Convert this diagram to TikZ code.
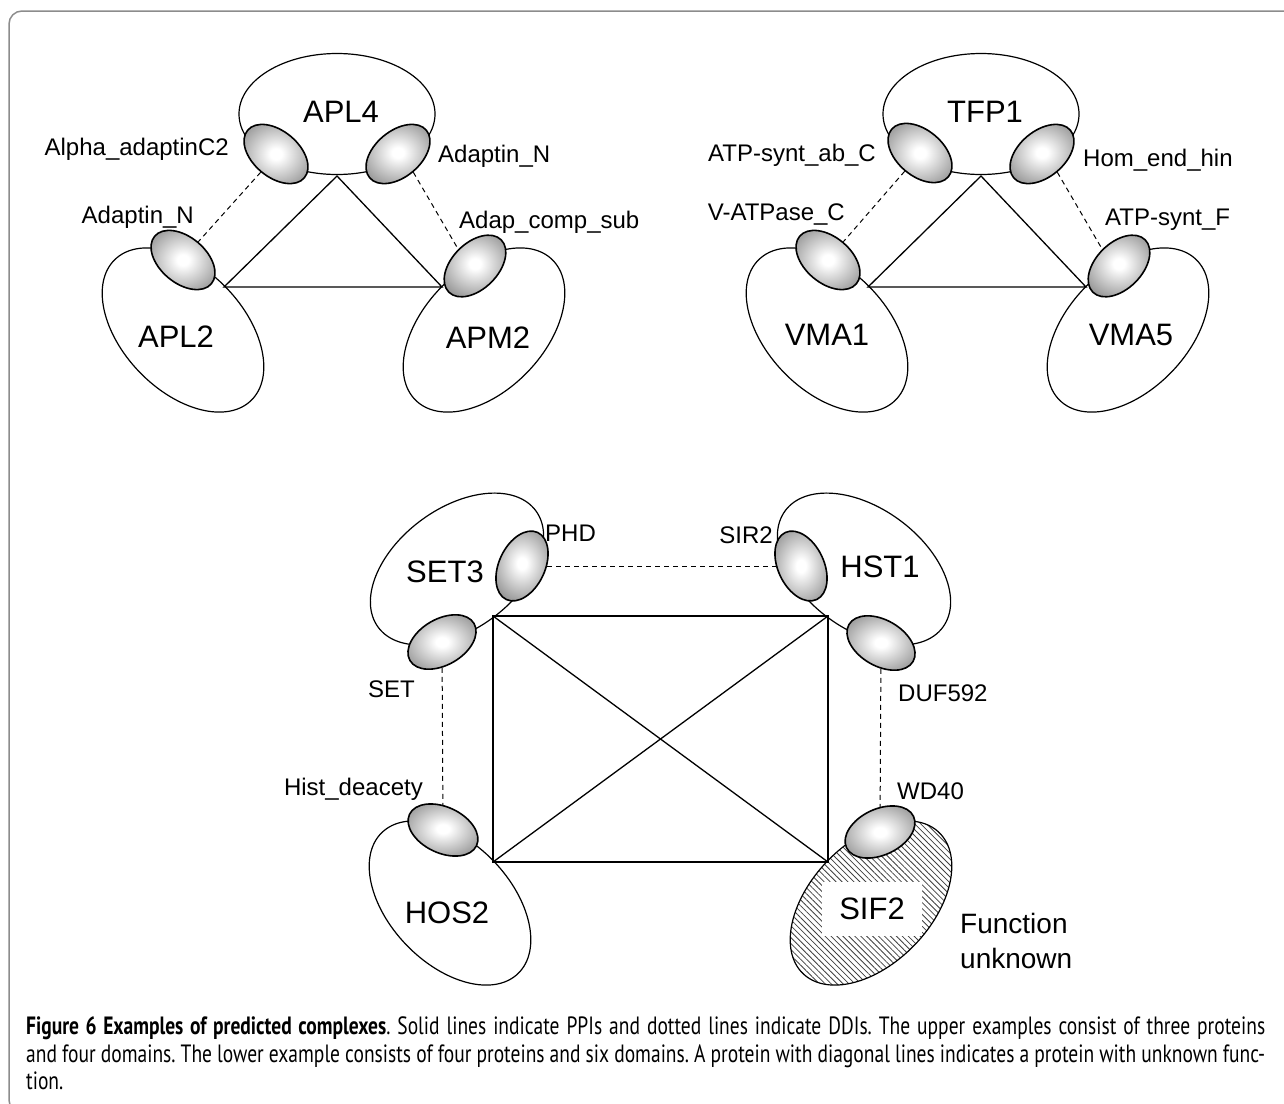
\documentclass[tikz,border=0pt]{standalone}
\usepackage{fontspec}
\setmainfont{Liberation Sans}
\newfontfamily\capfont[FakeStretch=0.78]{PT Sans}
\usepackage{tikz}
\usetikzlibrary{shapes.geometric, patterns.meta}
\pgfdeclareradialshading{domshade}{\pgfpoint{0bp}{0bp}}{color(0bp)=(white); color(4bp)=(white); color(36bp)=(black!55); color(50bp)=(black!60)}
\tikzstyle{protein} = [ellipse, draw=black, line width=1.2pt, fill=white, minimum width=196pt, minimum height=121pt, inner sep=0pt]
\tikzstyle{pdomain} = [ellipse, draw=black, line width=1.6pt, shade, shading=domshade, minimum width=74pt, minimum height=46pt, inner sep=0pt]
\tikzstyle{pname} = [font=\fontsize{31}{36}\selectfont]
\tikzstyle{dname} = [font=\fontsize{24}{28}\selectfont, inner sep=0pt]
\tikzstyle{ppi} = [line width=1.3pt]
\tikzstyle{ddi} = [line width=1pt, dash pattern=on 5pt off 4pt]
\tikzstyle{capline} = [anchor=west, inner sep=0pt, font=\capfont\fontsize{25}{28}\selectfont\frenchspacing]

\begin{document}
\begin{tikzpicture}[x=1pt, y=-1pt]
        \useasboundingbox (0,0) rectangle (1284,1103);
        \clip (0,0) rectangle (1284,1103);
        \draw [draw=black!45, line width=1.5pt, rounded corners=13pt] (9,11) rectangle (1340,1113);

        % upper left complex
        \node (apl4) [protein] at (337,114) {};
        \node (apl2) [protein, rotate=-46] at (183,330) {};
        \node (apm2) [protein, rotate=46] at (484,330) {};
        \coordinate (ta) at (337,176);
        \coordinate (tb) at (224,287);
        \coordinate (tc) at (442,287);
        \draw [ppi] (ta) -- (tb) -- (tc) -- cycle;
        \node (dalpha) [pdomain, rotate=-40] at (276,154) {};
        \node (dadapa) [pdomain, rotate=40] at (398,154) {};
        \node (dadapb) [pdomain, rotate=-40] at (183,260) {};
        \node (dadcomp) [pdomain, rotate=45] at (475,266) {};
        \draw [ddi] (dalpha.south) -- (dadapb.north);
        \draw [ddi] (dadapa.south) -- (dadcomp.north);
        \node (lapl4) [pname] at (341,112) {APL4};
        \node (lapl2) [pname] at (176,337) {APL2};
        \node (lapm2) [pname] at (488,338) {APM2};
        \node (lalpha) [dname, anchor=east] at (229,149) {Alpha\_adaptinC2};
        \node (ladapa) [dname, anchor=west] at (438,156) {Adaptin\_N};
        \node (ladapb) [dname, anchor=east] at (194,217) {Adaptin\_N};
        \node (ladcomp) [dname, anchor=west] at (459,222) {Adap\_comp\_sub};

        % upper right complex
        \node (tfp1) [protein] at (981,114) {};
        \node (vma1) [protein, rotate=-46] at (827,330) {};
        \node (vma5) [protein, rotate=46] at (1128,330) {};
        \coordinate (ua) at (981,176);
        \coordinate (ub) at (868,287);
        \coordinate (uc) at (1086,287);
        \draw [ppi] (ua) -- (ub) -- (uc) -- cycle;
        \node (datpab) [pdomain, rotate=-40] at (920,153) {};
        \node (dhom) [pdomain, rotate=40] at (1042,154) {};
        \node (dvatp) [pdomain, rotate=-40] at (828,260) {};
        \node (datpf) [pdomain, rotate=45] at (1119,266) {};
        \draw [ddi] (datpab.south) -- (dvatp.north);
        \draw [ddi] (dhom.south) -- (datpf.north);
        \node (ltfp1) [pname] at (985,112) {TFP1};
        \node (lvma1) [pname] at (827,335) {VMA1};
        \node (lvma5) [pname] at (1131,335) {VMA5};
        \node (latpab) [dname, anchor=east] at (876,155) {ATP-synt\_ab\_C};
        \node (lhom) [dname, anchor=west] at (1083,160) {Hom\_end\_hin};
        \node (lvatp) [dname, anchor=east] at (845,215) {V-ATPase\_C};
        \node (latpf) [dname, anchor=west] at (1105,220) {ATP-synt\_F};

        % lower complex
        \node (set3) [protein, rotate=36.5] at (457,569) {};
        \node (hst1) [protein, rotate=-36.5] at (864,569) {};
        \node (hos2) [protein, rotate=-46] at (450,903) {};
        \node (sif2) [protein, rotate=46, pattern={Lines[angle=-45, distance=4.2pt, line width=0.8pt]}, pattern color=black!75] at (871,903) {};
        \coordinate (qa) at (493,616);
        \coordinate (qb) at (828,616);
        \coordinate (qc) at (828,862);
        \coordinate (qd) at (493,862);
        \draw [ppi] (qa) -- (qb) -- (qc) -- (qd) -- cycle;
        \draw [ppi] (qa) -- (qc);
        \draw [ppi] (qb) -- (qd);
        \node (dphd) [pdomain, rotate=65] at (522,566) {};
        \node (dsir2) [pdomain, rotate=-65] at (801,566) {};
        \node (dset) [pdomain, rotate=30] at (442,642) {};
        \node (dduf) [pdomain, rotate=-30] at (881,643) {};
        \node (dhist) [pdomain, rotate=-25] at (443,830) {};
        \node (dwd40) [pdomain, rotate=25] at (880,832) {};
        \draw [ddi] (dphd) -- (dsir2);
        \draw [ddi] (dset) -- (dhist);
        \draw [ddi] (dduf) -- (dwd40);
        \node (lset3) [pname] at (445,572) {SET3};
        \node (lhst1) [pname] at (880,567) {HST1};
        \node (lhos2) [pname] at (447,913) {HOS2};
        \node (lsif2) [pname, fill=white, minimum width=100pt, minimum height=54pt] at (872,909) {SIF2};
        \node (lphd) [dname, anchor=west] at (545,533) {PHD};
        \node (lsir2) [dname, anchor=east] at (773,535) {SIR2};
        \node (lset) [dname, anchor=east] at (415,689) {SET};
        \node (lduf) [dname, anchor=west] at (898,693) {DUF592};
        \node (lhist) [dname, anchor=east] at (423,789) {Hist\_deacety};
        \node (lwd40) [dname, anchor=west] at (897,791) {WD40};
        \node (lfunc) [font=\fontsize{28}{35}\selectfont, align=left, anchor=north west, inner sep=0pt] at (960,913) {Function\\unknown};

        % caption
        \node (cap1) [capline] at (26,1028) {\makebox[1239pt][s]{\textbf{Figure 6 Examples of predicted complexes}. Solid lines indicate PPIs and dotted lines indicate DDIs. The upper examples consist of three proteins}};
        \node (cap2) [capline] at (26,1056) {\makebox[1239pt][s]{and four domains. The lower example consists of four proteins and six domains. A protein with diagonal lines indicates a protein with unknown func-}};
        \node (cap3) [capline] at (26,1081) {tion.};
    \end{tikzpicture}
\end{document}
